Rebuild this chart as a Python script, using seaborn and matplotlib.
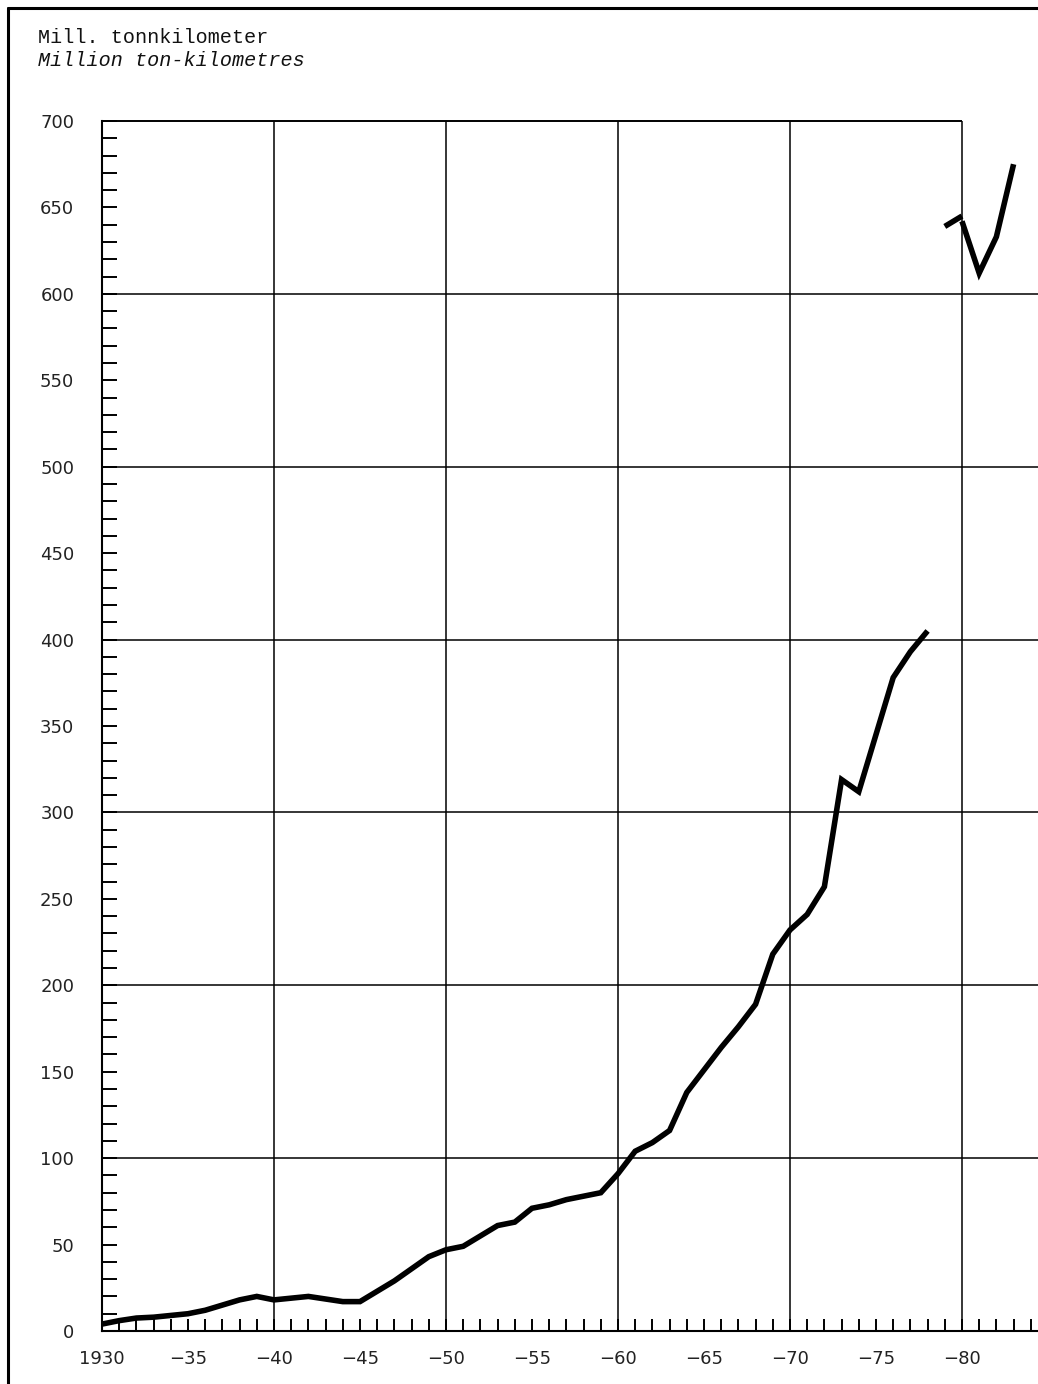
import matplotlib
matplotlib.use("Agg")
import matplotlib.pyplot as plt
from matplotlib.lines import Line2D
from matplotlib.ticker import MultipleLocator, FixedLocator
import seaborn as sns
import pandas as pd

# ---- data ----
years_main = list(range(1930, 1979))
values_main = [4, 6, 7.5, 8, 9, 10, 12, 15, 18, 20,
               18, 19, 20, 18.5, 17, 17, 23, 29, 36, 43,
               47, 49, 55, 61, 63, 71, 73, 76, 78, 80,
               91, 104, 109, 116, 138, 151, 164, 176, 189, 218,
               232, 241, 257, 319, 312, 345, 378, 393, 405]
years_new_a = [1979, 1980]
values_new_a = [639, 645]
years_new_b = [1980, 1981, 1982, 1983]
values_new_b = [642, 612, 633, 675]

x_tick_pos = [1930, 1935, 1940, 1945, 1950, 1955, 1960, 1965, 1970, 1975, 1980]
x_tick_labels = ["1930", "−35", "−40", "−45", "−50", "−55", "−60", "−65", "−70", "−75", "−80"]
y_tick_pos = list(range(0, 701, 50))
title_no = "Mill. tonnkilometer"
title_en = "Million ton-kilometres"

sns.set_theme(style="white")
plt.rcParams["font.family"] = ["DejaVu Sans"]

fig = plt.figure(figsize=(10.38, 13.84), dpi=100)
ax = fig.add_axes([102 / 1038, 1 - 1331 / 1384, 1 - 102 / 1038, (1331 - 121) / 1384])

df_main = pd.DataFrame({"year": years_main, "value": values_main})
df_a = pd.DataFrame({"year": years_new_a, "value": values_new_a})
df_b = pd.DataFrame({"year": years_new_b, "value": values_new_b})
for d in (df_main, df_a, df_b):
    sns.lineplot(data=d, x="year", y="value", ax=ax, color="black",
                 linewidth=4.0, solid_capstyle="butt", solid_joinstyle="miter", zorder=5)

ax.set_xlim(1930, 1984.42)
ax.set_ylim(0, 700)
ax.set_xlabel("")
ax.set_ylabel("")

# grid
for yv in range(100, 700, 100):
    ax.axhline(yv, color="black", linewidth=1.1, zorder=2)
for xv in range(1940, 1981, 10):
    ax.axvline(xv, color="black", linewidth=1.1, zorder=2)
ax.hlines(700, 1930, 1980, color="black", linewidth=1.4, clip_on=False, zorder=3)

# spines
for s in ("top", "right"):
    ax.spines[s].set_visible(False)
for s in ("left", "bottom"):
    ax.spines[s].set_color("black")
    ax.spines[s].set_linewidth(1.5)

# ticks
ax.xaxis.set_major_locator(FixedLocator(x_tick_pos))
ax.set_xticks(x_tick_pos)
ax.set_xticklabels(x_tick_labels)
ax.xaxis.set_minor_locator(MultipleLocator(1))
ax.set_yticks(y_tick_pos)
ax.set_yticklabels([str(v) for v in y_tick_pos])
ax.yaxis.set_minor_locator(MultipleLocator(10))
ax.tick_params(axis="x", which="both", direction="in", length=9, width=1.4,
               colors="black", bottom=True, top=False, pad=14, labelsize=13)
ax.tick_params(axis="y", which="both", direction="in", length=11, width=1.4,
               colors="black", left=True, right=False, pad=20, labelsize=13)
for lab in ax.get_xticklabels() + ax.get_yticklabels():
    lab.set_color("#222222")

# titles
fig.text(38 / 1038, 1 - 43 / 1384, title_no, family="Liberation Mono",
         fontsize=14.5, color="#111111", va="baseline", ha="left")
fig.text(38 / 1038, 1 - 66 / 1384, title_en, family="Liberation Mono",
         style="italic", fontsize=14.5, color="#111111", va="baseline", ha="left")

# outer frame (left and top)
fig.add_artist(Line2D([8 / 1038, 8 / 1038], [0, 1 - 8 / 1384],
                      transform=fig.transFigure, color="black", linewidth=2.2))
fig.add_artist(Line2D([8 / 1038, 1], [1 - 8 / 1384, 1 - 8 / 1384],
                      transform=fig.transFigure, color="black", linewidth=2.2))

fig.savefig("out.png", dpi=100, facecolor="white")
